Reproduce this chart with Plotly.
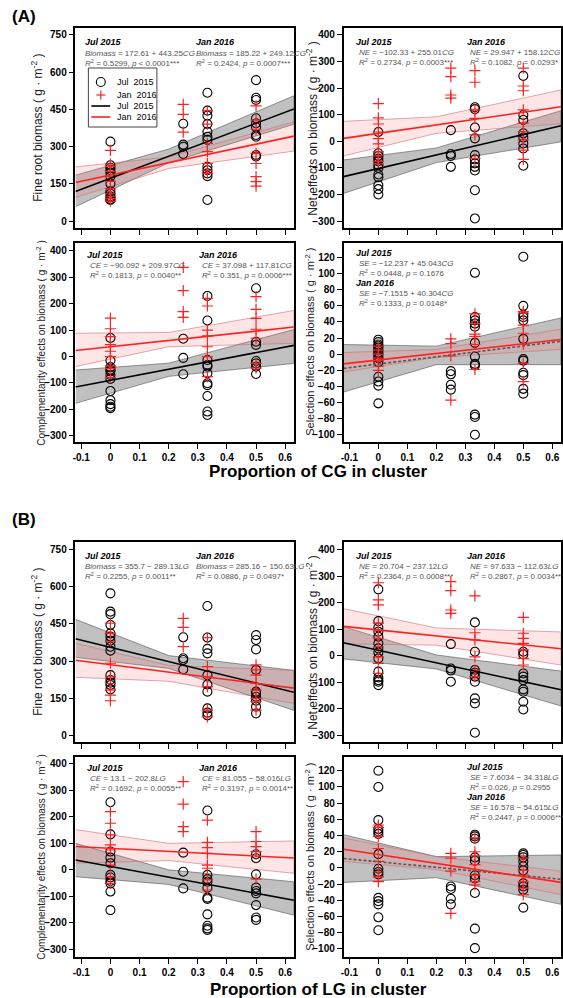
import plotly.graph_objects as go

W, H = 563, 998

# ---------------- shared axes values ----------------
GROUP_X = [0.0, 0.25, 0.333, 0.5]
FIT_X = [-0.12, 0.63]
BAND_X = [-0.12, 0.2, 0.63]
X_TICKS = [-0.1, 0, 0.1, 0.2, 0.3, 0.4, 0.5, 0.6]
X_TICK_LABELS = ["-0.1", "0", "0.1", "0.2", "0.3", "0.4", "0.5", "0.6"]
X_RANGE = [-0.12, 0.63]

# ---------------- (A) CG : fine root biomass ----------------
A1_JUL = [[320, 225, 215, 205, 195, 180, 150, 120, 110, 100, 95, 88, 85],
          [392, 308, 300, 270],
          [517, 445, 425, 391, 360, 340, 327, 219, 205, 192, 181, 85],
          [568, 497, 488, 414, 394, 378, 347, 340, 266, 260]]
A1_JAN = [[285, 230, 220, 200, 180, 160, 130, 110, 100, 90, 80],
          [470, 430, 358],
          [445, 391, 313, 280, 232, 205, 192],
          [464, 407, 370, 273, 232, 179, 159, 141]]
A1_JUL_FIT = [119.4, 451.9]
A1_JAN_FIT = [155.3, 342.2]
A1_JUL_LO = [58, 235, 390]
A1_JUL_HI = [185, 290, 505]
A1_JAN_LO = [95, 212, 282]
A1_JAN_HI = [218, 258, 400]

# ---------------- (A) CG : net effects ----------------
A2_JUL = [[35, -45, -55, -65, -75, -90, -100, -125, -135, -165, -180, -200],
          [42, -48, -55, -96],
          [128, 121, 52, 11, -52, -68, -83, -96, -110, -184, -290],
          [246, 99, 80, 30, 14, -8, -27, -92]]
A2_JAN = [[142, 88, 65, 35, 10, -10, -40, -55, -75, -85],
          [275, 243, 174, 162],
          [266, 222, 118, 86, 24, -64],
          [275, 208, 190, 118, 68, 36, 5, -33, -68]]
A2_JUL_FIT = [-132.9, 58.3]
A2_JAN_FIT = [11.0, 129.6]
A2_JUL_LO = [-196, -80, -2]
A2_JUL_HI = [-70, -25, 115]
A2_JAN_LO = [-55, 30, 66]
A2_JAN_HI = [75, 92, 193]

# ---------------- (A) CG : complementarity effects ----------------
A3_JUL = [[70, -15, -40, -50, -55, -70, -85, -130, -165, -180, -190, -195],
          [67, -5, -67],
          [229, 136, -13, -32, -38, -63, -101, -108, -149, -208, -221],
          [258, 56, 44, -17, -26, -38, -66]]
A3_JAN = [[145, 105, 75, 45, 20, 0, -35, -45, -80],
          [337, 249, 170, 148],
          [220, 191, 100, 78, 37, 0, -76],
          [226, 178, 144, 103, 69, -26, -44]]
A3_JUL_FIT = [-115.3, 42.2]
A3_JAN_FIT = [23.0, 111.3]
A3_JUL_LO = [-177, -75, -26]
A3_JUL_HI = [-51, -25, 102]
A3_JAN_LO = [-38, 37, 50]
A3_JAN_HI = [88, 91, 174]

# ---------------- (A) CG : selection effects ----------------
A4_JUL = [[18, 15, 12, 10, 8, 5, 2, 0, -3, -5, -10, -28, -34, -39, -61],
          [-21, -25, -38, -44],
          [101, 46, 42, 38, 34, 14, -3, -12, -14, -75, -78, -100],
          [121, 60, 49, 46, 42, 19, -6, -8, -23, -26, -43, -49]]
A4_JAN = [[10, 5, 0, -5, -8, -15, -20],
          [19, 13, -2, -57],
          [50, 38, 25, 22, 12, -19],
          [53, 51, 36, 26, 12, -11, -34]]
A4_JUL_FIT = [-17.6, 16.1]
A4_JAN_FIT = [-12.0, 18.2]
A4_JUL_LO = [-47, -13, -13]
A4_JUL_HI = [12, 10, 45]
A4_JAN_LO = [-22, -4, 6]
A4_JAN_HI = [2, 6, 31]

# ---------------- (B) LG : fine root biomass ----------------
B1_JUL = [[574, 500, 490, 446, 412, 399, 382, 358, 342, 243, 223, 212, 203, 185],
          [396, 311, 304, 266],
          [523, 395, 349, 331, 243, 205, 176, 108, 91, 80],
          [405, 385, 347, 264, 176, 169, 155, 139, 115, 88]]
B1_JAN = [[453, 412, 378, 291, 236, 209, 182, 162, 139],
          [473, 436, 358],
          [395, 277, 236, 196, 101, 74],
          [284, 264, 243, 209, 182, 149, 135, 101]]
B1_JUL_FIT = [390.4, 173.5]
B1_JAN_FIT = [303.2, 190.3]
B1_JUL_LO = [315, 270, 100]
B1_JUL_HI = [469, 322, 262]
B1_JAN_LO = [234, 218, 128]
B1_JAN_HI = [372, 282, 262]

# ---------------- (B) LG : net effects ----------------
B2_JUL = [[251, 131, 107, 91, 72, 47, 28, 12, -10, -60, -82, -92, -98, -111],
          [44, -48, -56, -98],
          [126, 15, -54, -64, -79, -98, -161, -180, -291],
          [15, 5, -67, -79, -92, -127, -136, -174, -203]]
B2_JAN = [[276, 211, 192, 123, 97, 66, 34, -4, -29, -67],
          [280, 246, 173, 160],
          [226, 87, 60, -4, -54, -79],
          [145, 85, 66, 47, 22, -10, -35]]
B2_JUL_FIT = [49.2, -128.7]
B2_JAN_FIT = [111.1, 26.7]
B2_JUL_LO = [-12, -50, -190]
B2_JUL_HI = [110, 3, -58]
B2_JAN_LO = [45, 40, -35]
B2_JAN_HI = [178, 105, 90]

# ---------------- (B) LG : complementarity effects ----------------
B3_JUL = [[255, 134, 69, 46, 25, -19, -29, -42, -51, -82, -152],
          [65, -7, -70],
          [224, -19, -35, -45, -67, -105, -110, -168, -211, -221, -227],
          [59, 44, -17, -67, -80, -89, -133, -180, -189]]
B3_JAN = [[220, 176, 132, 94, 75, 18, -26, -51],
          [333, 248, 163, 144],
          [188, 104, 84, 62, 18, 6, -38, -76],
          [144, 107, 88, 69, -35]]
B3_JUL_FIT = [37.4, -114.7]
B3_JAN_FIT = [88.0, 44.5]
B3_JUL_LO = [-26, -55, -171]
B3_JUL_HI = [100, 0, -45]
B3_JAN_LO = [25, 35, -13]
B3_JAN_HI = [152, 100, 109]

# ---------------- (B) LG : selection effects ----------------
B4_JUL = [[120, 100, 59, 48, 45, 42, 17, -1, -5, -8, -37, -41, -45, -61, -77],
          [-23, -26, -38, -45],
          [41, 39, 36, 13, 9, -9, -13, -31, -75, -99],
          [18, 16, 13, 8, 2, -3, -19, -23, -27, -49]]
B4_JAN = [[53, 50, 39, 24, 8, -5, -11, -17],
          [18, 12, -4, -56],
          [37, 20, 15, 4, -9, -17, -21],
          [12, -3, -9, -17, -25, -33]]
B4_JUL_FIT = [11.7, -14.0]
B4_JAN_FIT = [23.1, -17.8]
B4_JUL_LO = [-18, -12, -45]
B4_JUL_HI = [41, 14, 16]
B4_JAN_LO = [8, -2, -33]
B4_JAN_HI = [37, 14, -4]

# ---------------- text ----------------
SERIES_NAMES = ["Jul  2015", "Jan  2016"]
Y_TITLES = {
    "bio": "Fine root biomass ( g · m<sup>-2</sup> )",
    "ne": "Net effects on biomass ( g · m<sup>-2</sup> )",
    "ce": "Complementarity effects on biomass ( g · m<sup>-2</sup> )",
    "se": "Selection effects on biomass ( g · m<sup>-2</sup> )",
}
Y_TICKS = {
    "bio": [0, 150, 300, 450, 600, 750],
    "ne": [-300, -200, -100, 0, 100, 200, 300, 400],
    "ce": [-300, -200, -100, 0, 100, 200, 300, 400],
    "se": [-100, -80, -60, -40, -20, 0, 20, 40, 60, 80, 100, 120],
}

FONT = "Liberation Sans, Arial, sans-serif"


def fx(px):
    return px / W


def fy(py):
    return 1 - py / H


PANELS = [
    dict(rect=(73, 293, 28, 228), yr=[-28, 778], kind="bio", xlab=False,
         jul=A1_JUL, jan=A1_JAN, jf=A1_JUL_FIT, nf=A1_JAN_FIT,
         jlo=A1_JUL_LO, jhi=A1_JUL_HI, nlo=A1_JAN_LO, nhi=A1_JAN_HI, dash=False),
    dict(rect=(343, 562, 28, 228), yr=[-326, 426], kind="ne", xlab=False,
         jul=A2_JUL, jan=A2_JAN, jf=A2_JUL_FIT, nf=A2_JAN_FIT,
         jlo=A2_JUL_LO, jhi=A2_JUL_HI, nlo=A2_JAN_LO, nhi=A2_JAN_HI, dash=False),
    dict(rect=(73, 293, 243, 442), yr=[-323, 429], kind="ce", xlab=True,
         jul=A3_JUL, jan=A3_JAN, jf=A3_JUL_FIT, nf=A3_JAN_FIT,
         jlo=A3_JUL_LO, jhi=A3_JUL_HI, nlo=A3_JAN_LO, nhi=A3_JAN_HI, dash=False),
    dict(rect=(343, 562, 243, 442), yr=[-109, 138], kind="se", xlab=True,
         jul=A4_JUL, jan=A4_JAN, jf=A4_JUL_FIT, nf=A4_JAN_FIT,
         jlo=A4_JUL_LO, jhi=A4_JUL_HI, nlo=A4_JAN_LO, nhi=A4_JAN_HI, dash=True),
    dict(rect=(73, 293, 542, 742), yr=[-28, 782], kind="bio", xlab=False,
         jul=B1_JUL, jan=B1_JAN, jf=B1_JUL_FIT, nf=B1_JAN_FIT,
         jlo=B1_JUL_LO, jhi=B1_JUL_HI, nlo=B1_JAN_LO, nhi=B1_JAN_HI, dash=False),
    dict(rect=(343, 562, 542, 742), yr=[-326, 430], kind="ne", xlab=False,
         jul=B2_JUL, jan=B2_JAN, jf=B2_JUL_FIT, nf=B2_JAN_FIT,
         jlo=B2_JUL_LO, jhi=B2_JUL_HI, nlo=B2_JAN_LO, nhi=B2_JAN_HI, dash=False),
    dict(rect=(73, 293, 757, 957), yr=[-329, 426], kind="ce", xlab=True,
         jul=B3_JUL, jan=B3_JAN, jf=B3_JUL_FIT, nf=B3_JAN_FIT,
         jlo=B3_JUL_LO, jhi=B3_JUL_HI, nlo=B3_JAN_LO, nhi=B3_JAN_HI, dash=False),
    dict(rect=(343, 562, 757, 957), yr=[-110, 137], kind="se", xlab=True,
         jul=B4_JUL, jan=B4_JAN, jf=B4_JUL_FIT, nf=B4_JAN_FIT,
         jlo=B4_JUL_LO, jhi=B4_JUL_HI, nlo=B4_JAN_LO, nhi=B4_JAN_HI, dash=True),
]

EQ_TEXT = [
    (81, 42, "Jul 2015", True), (81, 53, "<i>Biomass</i> = 172.61 + 443.25<i>CG</i>", False),
    (81, 63, "<i>R</i><sup>2</sup> = 0.5299, <i>p</i> &lt; 0.0001***", False),
    (192, 42, "Jan 2016", True), (192, 53, "<i>Biomass</i> = 185.22 + 249.12<i>CG</i>", False),
    (192, 63, "<i>R</i><sup>2</sup> = 0.2424, <i>p</i> = 0.0007***", False),

    (354, 42, "Jul 2015", True), (357, 52, "<i>NE</i> = −102.33 + 255.01<i>CG</i>", False),
    (357, 62, "<i>R</i><sup>2</sup> = 0.2734, <i>p</i> = 0.0003***", False),
    (465, 42, "Jan 2016", True), (468, 52, "<i>NE</i> = 29.947 + 158.12<i>CG</i>", False),
    (468, 62, "<i>R</i><sup>2</sup> = 0.1082, <i>p</i> = 0.0293*", False),

    (83, 255, "Jul 2015", True), (86, 265, "<i>CE</i> = −90.092 + 209.97<i>CG</i>", False),
    (86, 275, "<i>R</i><sup>2</sup> = 0.1813, <i>p</i> = 0.0040**", False),
    (195, 255, "Jan 2016", True), (198, 265, "<i>CE</i> = 37.098 + 117.81<i>CG</i>", False),
    (198, 275, "<i>R</i><sup>2</sup> = 0.351, <i>p</i> = 0.0006***", False),

    (354, 253, "Jul 2015", True), (357, 263, "<i>SE</i> = −12.237 + 45.043<i>CG</i>", False),
    (357, 273, "<i>R</i><sup>2</sup> = 0.0448, <i>p</i> = 0.1676", False),
    (354, 283, "Jan 2016", True), (357, 293, "<i>SE</i> = −7.1515 + 40.304<i>CG</i>", False),
    (357, 303, "<i>R</i><sup>2</sup> = 0.1333, <i>p</i> = 0.0148*", False),

    (81, 556, "Jul 2015", True), (81, 566, "<i>Biomass</i> = 355.7 − 289.13<i>LG</i>", False),
    (81, 576, "<i>R</i><sup>2</sup> = 0.2255, <i>p</i> = 0.0011**", False),
    (192, 556, "Jan 2016", True), (192, 566, "<i>Biomass</i> = 285.16 − 150.63<i>LG</i>", False),
    (192, 576, "<i>R</i><sup>2</sup> = 0.0886, <i>p</i> = 0.0497*", False),

    (354, 556, "Jul 2015", True), (357, 566, "<i>NE</i> = 20.704 − 237.12<i>LG</i>", False),
    (357, 576, "<i>R</i><sup>2</sup> = 0.2364, <i>p</i> = 0.0008***", False),
    (465, 556, "Jan 2016", True), (468, 566, "<i>NE</i> = 97.633 − 112.63<i>LG</i>", False),
    (468, 576, "<i>R</i><sup>2</sup> = 0.2867, <i>p</i> = 0.0034**", False),

    (83, 768, "Jul 2015", True), (86, 778, "<i>CE</i> = 13.1 − 202.8<i>LG</i>", False),
    (86, 788, "<i>R</i><sup>2</sup> = 0.1692, <i>p</i> = 0.0055**", False),
    (195, 768, "Jan 2016", True), (198, 778, "<i>CE</i> = 81.055 − 58.016<i>LG</i>", False),
    (198, 788, "<i>R</i><sup>2</sup> = 0.3197, <i>p</i> = 0.0014**", False),

    (465, 767, "Jul 2015", True), (468, 777, "<i>SE</i> = 7.6034 − 34.318<i>LG</i>", False),
    (468, 787, "<i>R</i><sup>2</sup> = 0.026, <i>p</i> = 0.2955", False),
    (465, 797, "Jan 2016", True), (468, 807, "<i>SE</i> = 16.578 − 54.615<i>LG</i>", False),
    (468, 817, "<i>R</i><sup>2</sup> = 0.2447, <i>p</i> = 0.0006***", False),
]

GRAY_FILL = "rgba(90,90,90,0.38)"
GRAY_EDGE = "rgba(70,70,70,0.55)"
PINK_FILL = "rgba(255,110,110,0.18)"
PINK_EDGE = "rgba(205,110,120,0.6)"
RED = "#ff2020"

fig = go.Figure()
layout = dict(
    width=W, height=H, margin=dict(l=0, r=0, t=0, b=0),
    paper_bgcolor="white", plot_bgcolor="white",
    showlegend=False,
    font=dict(family=FONT, color="black"),
)
annotations = []
shapes = []

for i, p in enumerate(PANELS, start=1):
    xa = "x" if i == 1 else f"x{i}"
    ya = "y" if i == 1 else f"y{i}"
    x0, x1, y0, y1 = p["rect"]
    layout[f"xaxis{i}" if i > 1 else "xaxis"] = dict(
        domain=[fx(x0), fx(x1)], anchor=ya, range=X_RANGE,
        tickvals=X_TICKS, ticktext=X_TICK_LABELS, showticklabels=p["xlab"],
        ticks="outside", ticklen=5, tickwidth=1.2, tickcolor="black",
        showline=True, linecolor="black", linewidth=1.5, mirror=True,
        showgrid=False, zeroline=False,
        tickfont=dict(family=FONT, size=10, weight="bold", color="black"),
    )
    layout[f"yaxis{i}" if i > 1 else "yaxis"] = dict(
        domain=[fy(y1), fy(y0)], anchor=xa, range=p["yr"],
        tickvals=Y_TICKS[p["kind"]], ticks="outside", ticklen=5, tickwidth=1.2,
        tickcolor="black", showline=True, linecolor="black", linewidth=1.5,
        mirror=True, showgrid=False, zeroline=False,
        tickfont=dict(family=FONT, size=10, weight="bold", color="black"),
    )
    for lo, hi, fill, edge in ((p["jlo"], p["jhi"], GRAY_FILL, GRAY_EDGE),
                               (p["nlo"], p["nhi"], PINK_FILL, PINK_EDGE)):
        fig.add_trace(go.Scatter(
            x=BAND_X + BAND_X[::-1], y=hi + lo[::-1], xaxis=xa, yaxis=ya,
            mode="lines", fill="toself", fillcolor=fill,
            line=dict(color=edge, width=1), hoverinfo="skip"))
    jx, jy, nx, ny = [], [], [], []
    for gx, vals in zip(GROUP_X, p["jul"]):
        jx += [gx] * len(vals)
        jy += vals
    for gx, vals in zip(GROUP_X, p["jan"]):
        nx += [gx] * len(vals)
        ny += vals
    fig.add_trace(go.Scatter(
        x=jx, y=jy, xaxis=xa, yaxis=ya, mode="markers", name=SERIES_NAMES[0],
        marker=dict(symbol="circle-open", size=9, color="black", line=dict(width=1.1))))
    fig.add_trace(go.Scatter(
        x=nx, y=ny, xaxis=xa, yaxis=ya, mode="markers", name=SERIES_NAMES[1],
        marker=dict(symbol="cross-thin-open", size=8, color=RED, line=dict(width=1.2, color=RED))))
    fig.add_trace(go.Scatter(
        x=FIT_X, y=p["jf"], xaxis=xa, yaxis=ya, mode="lines", name=SERIES_NAMES[0],
        line=dict(color="#555555" if p["dash"] else "black", width=1.6,
                  dash="3px,2px" if p["dash"] else "solid")))
    fig.add_trace(go.Scatter(
        x=FIT_X, y=p["nf"], xaxis=xa, yaxis=ya, mode="lines", name=SERIES_NAMES[1],
        line=dict(color=RED, width=1.6)))

# y axis titles
YT = [("bio", 34, 128, 12), ("ne", 311, 128, 12), ("ce", 38, 343, 10), ("se", 309, 342, 11),
      ("bio", 34, 642, 12), ("ne", 311, 642, 12), ("ce", 38, 857, 10), ("se", 309, 857, 11)]
for kind, x, y, s in YT:
    annotations.append(dict(
        x=fx(x), y=fy(y), xref="paper", yref="paper", xanchor="center", yanchor="middle",
        text=Y_TITLES[kind], textangle=-90, showarrow=False,
        font=dict(family=FONT, size=s, color="#222222")))

# x titles and panel tags
for t, x, y, s in (("Proportion of CG in cluster", 318, 471, 17),
                   ("Proportion of LG in cluster", 318, 989, 17),
                   ("(A)", 21, 17, 17), ("(B)", 21, 519, 17)):
    annotations.append(dict(
        x=fx(x), y=fy(y), xref="paper", yref="paper", xanchor="center", yanchor="middle",
        text=f"<b>{t}</b>", showarrow=False, font=dict(family=FONT, size=s, color="black")))

# legend box (panel A, top-left)
shapes.append(dict(type="rect", xref="paper", yref="paper", x0=fx(86), x1=fx(155),
                   y0=fy(127), y1=fy(68), line=dict(color="#444444", width=1),
                   fillcolor="white", layer="above"))
shapes.append(dict(type="circle", xref="paper", yref="paper", x0=fx(94), x1=fx(103),
                   y0=fy(86.5), y1=fy(77.5), line=dict(color="black", width=1.1)))
shapes.append(dict(type="line", xref="paper", yref="paper", x0=fx(94), x1=fx(103),
                   y0=fy(95), y1=fy(95), line=dict(color=RED, width=1.2)))
shapes.append(dict(type="line", xref="paper", yref="paper", x0=fx(98.5), x1=fx(98.5),
                   y0=fy(90.5), y1=fy(99.5), line=dict(color=RED, width=1.2)))
shapes.append(dict(type="line", xref="paper", yref="paper", x0=fx(89), x1=fx(108),
                   y0=fy(106), y1=fy(106), line=dict(color="black", width=1.6)))
shapes.append(dict(type="line", xref="paper", yref="paper", x0=fx(89), x1=fx(108),
                   y0=fy(117), y1=fy(117), line=dict(color=RED, width=1.6)))
for name, y in zip(SERIES_NAMES + SERIES_NAMES, (82, 95, 106, 117)):
    annotations.append(dict(
        x=fx(113), y=fy(y), xref="paper", yref="paper", xanchor="left", yanchor="middle",
        text=name, showarrow=False, font=dict(family=FONT, size=9, color="black")))

# regression equations
for (x, y, t, head) in EQ_TEXT:
    if head:
        annotations.append(dict(
            x=fx(x), y=fy(y), xref="paper", yref="paper", xanchor="left", yanchor="middle",
            text=t, showarrow=False,
            font=dict(family=FONT, size=9, color="black", weight="bold", style="italic")))
    else:
        annotations.append(dict(
            x=fx(x), y=fy(y), xref="paper", yref="paper", xanchor="left", yanchor="middle",
            text=t, showarrow=False, font=dict(family=FONT, size=8, color="#555555")))

layout["annotations"] = annotations
layout["shapes"] = shapes
fig.update_layout(**layout)
fig.write_html("out.html", config={"displayModeBar": False},
               post_script="document.body.style.margin='0';document.body.style.overflow='hidden';")
